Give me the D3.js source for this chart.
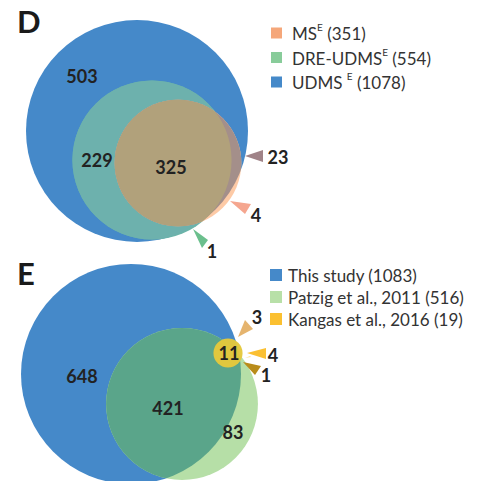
<!DOCTYPE html>
<html>
<head>
<meta charset="utf-8">
<script src="https://cdn.jsdelivr.net/npm/d3@7"></script>
<style>
  html, body { margin: 0; padding: 0; background: #fff; }
  svg { display: block; }
  text { font-family: Lato, "Open Sans", sans-serif; }
</style>
</head>
<body>
<svg id="chart" width="483" height="481"></svg>
<script>
// ---- Panel D: set sizes and region counts ----
const setsD = ["MS", "DRE-UDMS", "UDMS"];
const sizesD = [351, 554, 1078];
const regionsD = ["all", "DRE-UDMS ∩ UDMS", "MS ∩ DRE-UDMS ∩ UDMS", "MS ∩ UDMS", "MS only", "DRE-UDMS only"];
const countsD = [503, 229, 325, 23, 4, 1];

// ---- Panel E: set sizes and region counts ----
const setsE = ["This study", "Patzig et al., 2011", "Kangas et al., 2016"];
const sizesE = [1083, 516, 19];
const regionsE = ["This study only", "This study ∩ Patzig", "Patzig only", "all three", "This study ∩ Kangas", "Kangas only", "Patzig ∩ Kangas"];
const countsE = [648, 421, 83, 11, 3, 4, 1];

const svg = d3.select("#chart");
const defs = svg.append("defs");
const ink = "#222";

// circle areas proportional to set sizes
const rD = d3.scaleSqrt().domain([0, d3.max(sizesD)]).range([0, 111]);
const rE = d3.scaleSqrt().domain([0, d3.max(sizesE)]).range([0, 110]);

// ---------------- Panel D ----------------
const gD = svg.append("g");
const cD = {
  UDMS: [137, 131],
  "DRE-UDMS": [152, 160],
  MS: [178, 163]
};
const circD = setsD.map((s, i) => ({ name: s, cx: cD[s][0], cy: cD[s][1], r: rD(sizesD[i]) }));
const [msD, dreD, udmsD] = circD;

function clipCircle(id, c) {
  defs.append("clipPath").attr("id", id)
    .append("circle").attr("cx", c.cx).attr("cy", c.cy).attr("r", c.r);
}
clipCircle("clipUdms", udmsD);
clipCircle("clipDre", dreD);

function disc(g, c, fill, clip) {
  const el = g.append("circle").attr("cx", c.cx).attr("cy", c.cy).attr("r", c.r).attr("fill", fill);
  if (clip) el.attr("clip-path", `url(#${clip})`);
  return el;
}
disc(gD, udmsD, "#4589c9");
disc(gD, dreD, "#6bb5a8");
disc(gD, dreD, "#6db1ad", "clipUdms");
disc(gD, msD, "#fdcaa6");
disc(gD, msD, "#a48f8a", "clipUdms");
disc(gD, msD, "#b1a17b", "clipDre");

// pointer wedges for the small regions
function wedge(g, pts, fill) {
  g.append("path").attr("d", d3.line()(pts) + "Z").attr("fill", fill);
}
wedge(gD, [[245, 156], [263, 150], [263, 162]], "#a08388");
wedge(gD, [[230, 201], [251, 204], [245, 214]], "#f5a68f");
wedge(gD, [[193, 229], [208, 240], [202, 248]], "#6bbf8d");

function num(g, x, y, v, size) {
  g.append("text").attr("x", x).attr("y", y)
    .attr("text-anchor", "middle").attr("dominant-baseline", "central")
    .attr("font-weight", 700).attr("font-size", size || 18).attr("fill", ink)
    .text(v);
}
const posD = [[82, 76], [97, 160], [171, 167], [278, 157], [256, 215], [212, 251]];
countsD.forEach((v, i) => num(gD, posD[i][0], posD[i][1], v));

// panel letter
svg.append("text").attr("x", 17).attr("y", 33).attr("font-size", 31).attr("font-weight", 700)
  .attr("fill", "#1a1a1a").text("D");

// legend D
const colD = { MS: "#f5a77a", "DRE-UDMS": "#88cc9a", UDMS: "#4589c9" };
const legD = svg.append("g");
setsD.forEach((s, i) => {
  const y = 33 + i * 24.5;
  legD.append("rect").attr("x", 271).attr("y", y - 5.5).attr("width", 11).attr("height", 11).attr("fill", colD[s]);
  const t = legD.append("text").attr("x", 292).attr("y", y).attr("dominant-baseline", "central")
    .attr("font-size", 17).attr("fill", "#333");
  t.append("tspan").text(s + (s === "UDMS" ? " " : ""));
  t.append("tspan").attr("font-size", 10).attr("dy", -6).text("E");
  t.append("tspan").attr("dy", 6).text(" (" + sizesD[i] + ")");
});

// ---------------- Panel E ----------------
const gE = svg.append("g");
const cE = {
  "This study": [131, 374],
  "Patzig et al., 2011": [182, 404],
  "Kangas et al., 2016": [228, 353]
};
const circE = setsE.map((s, i) => ({ name: s, cx: cE[s][0], cy: cE[s][1], r: rE(sizesE[i]) }));
const [thisE, patE, kanE] = circE;
clipCircle("clipThis", thisE);

disc(gE, thisE, "#4589c9");
disc(gE, patE, "#b6dfa7");
disc(gE, patE, "#5aa58a", "clipThis");
disc(gE, kanE, "#e4c83c").attr("opacity", 0.97);

wedge(gE, [[238, 337], [245, 320], [253, 329]], "#e5b46e");
wedge(gE, [[247, 353], [266, 348], [266, 359]], "#fbc032");
wedge(gE, [[243, 362], [261, 366], [255, 375]], "#b98c1a");
wedge(gE, [[245, 358], [250, 356], [251, 357]], "#f6e29a");

const posE = [[82, 376], [168, 408], [233, 432], [229, 353], [257, 317], [273, 355], [266, 375]];
countsE.forEach((v, i) => num(gE, posE[i][0], posE[i][1], v));

svg.append("text").attr("x", 17).attr("y", 285).attr("font-size", 31).attr("font-weight", 700)
  .attr("fill", "#1a1a1a").text("E");

const colE = { "This study": "#4589c9", "Patzig et al., 2011": "#b8e0a8", "Kangas et al., 2016": "#fbc030" };
const legE = svg.append("g");
setsE.forEach((s, i) => {
  const y = 275 + i * 22;
  legE.append("rect").attr("x", 270).attr("y", y - 6).attr("width", 12).attr("height", 12).attr("fill", colE[s]);
  legE.append("text").attr("x", 288).attr("y", y).attr("dominant-baseline", "central")
    .attr("font-size", 17).attr("fill", "#333").text(`${s} (${sizesE[i]})`);
});
</script>
</body>
</html>
